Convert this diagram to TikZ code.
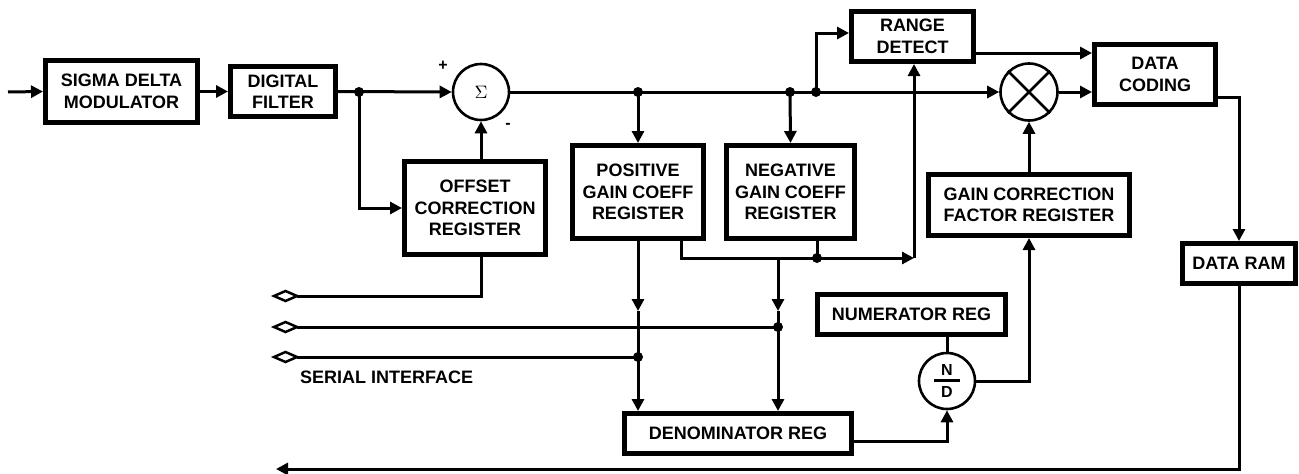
\documentclass[tikz,border=0pt]{standalone}
\usepackage{fontspec}
\setmainfont{Liberation Sans}
\usetikzlibrary{arrows.meta}
\begin{document}
\begin{tikzpicture}[x=1pt,y=-1pt,
  blk/.style={draw,line width=5pt,inner sep=0pt,align=center,font=\fontsize{18}{21.5}\selectfont\bfseries},
  conn/.style={line width=3pt},
  arr/.style={conn,-{Triangle[length=12pt,width=12pt]}},
  junc/.style={circle,fill,inner sep=0pt,minimum size=10pt},
  opcirc/.style={circle,draw,line width=2.6pt,inner sep=0pt},
  lbl/.style={font=\fontsize{18}{21.5}\selectfont\bfseries,inner sep=0pt},
  port/.style={line width=2.5pt,line join=miter}
]
\useasboundingbox (0,0) rectangle (1299,474);

% blocks
\node[blk,minimum width=152pt,minimum height=62pt] (sd) at (121.5,91.5) {SIGMA DELTA\\MODULATOR};
\node[blk,minimum width=105pt,minimum height=50pt] (df) at (283,91.5) {DIGITAL\\FILTER};
\node[blk,minimum width=141pt,minimum height=93pt] (off) at (475,208) {OFFSET\\CORRECTION\\REGISTER};
\node[blk,minimum width=131pt,minimum height=93pt] (pos) at (638,192) {POSITIVE\\GAIN COEFF\\REGISTER};
\node[blk,minimum width=128pt,minimum height=93pt] (neg) at (790.5,192) {NEGATIVE\\GAIN COEFF\\REGISTER};
\node[blk,minimum width=122pt,minimum height=50pt] (rng) at (912.5,36.5) {RANGE\\DETECT};
\node[blk,minimum width=121pt,minimum height=60pt] (dc) at (1155,74.5) {DATA\\CODING};
\node[blk,minimum width=201pt,minimum height=61pt] (gc) at (1029,205) {GAIN CORRECTION\\FACTOR REGISTER};
\node[blk,minimum width=188pt,minimum height=40pt] (num) at (911.5,314.5) {NUMERATOR REG};
\node[blk,minimum width=227pt,minimum height=40pt] (den) at (738,433.5) {DENOMINATOR REG};
\node[blk,minimum width=113pt,minimum height=40pt] (ram) at (1239,263.5) {DATA RAM};

% operator circles
\node[opcirc,minimum size=56pt] (sig) at (481,92) {\scalebox{1.8}{$\Sigma$}};
\node[opcirc,minimum size=57pt] (mul) at (1029,92) {};
\draw[line width=2.6pt] (mul.north east) -- (mul.south west) (mul.north west) -- (mul.south east);
\node[opcirc,minimum size=56pt] (nd) at (947,381) {};
\node[lbl,font=\fontsize{16}{16}\selectfont\bfseries] (nN) at (947,370) {N};
\node[lbl,font=\fontsize{16}{16}\selectfont\bfseries] (nD) at (947,392) {D};
\draw[line width=2.6pt] (934,380.5) -- (960,380.5);

% labels
\node[font=\fontsize{16}{16}\selectfont\bfseries,inner sep=0pt] (plus) at (443,66) {+};
\node[font=\fontsize{16}{16}\selectfont\bfseries,inner sep=0pt] (minus) at (508,126) {-};
\node[lbl,anchor=west] (si) at (300,377) {SERIAL INTERFACE};

% coordinates
\coordinate (in) at (8,92);
\coordinate (d1) at (359,92);
\coordinate (dp) at (638,92);
\coordinate (dn) at (790,92);
\coordinate (dr) at (816,92);
\coordinate (c681) at (681,258);
\coordinate (cr) at (914,258);
\coordinate (dq) at (817,258);
\coordinate (v0) at (778,258);
\coordinate (vm) at (778,311);
\coordinate (pm) at (638,311);
\coordinate (dv) at (778,327);
\coordinate (dw) at (638,357);
\coordinate (outl) at (276,469);

% serial ports
\foreach \yy/\nm in {296/s1,327/s2,357/s3}{
  \draw[port] (274,\yy) -- (285.5,\yy-5) -- (297,\yy) -- (285.5,\yy+5) -- cycle;
  \coordinate (\nm) at (297,\yy);
}

% connectors
\draw[arr] (in) -- (sd.west);
\draw[arr] (sd.east) -- (df.west);
\draw[arr] (df.east) -- (sig.west);
\draw[arr] (d1) |- (off.west);
\draw[arr] (sig.south |- off.north) -- (sig.south);
\draw[arr] (sig.east) -- (mul.west);
\draw[arr] (dp) -- (pos.north);
\draw[arr] (dn) -- (neg.north);
\draw[arr] (dr) |- ([yshift=3.5pt]rng.west);
\coordinate (r1) at ([yshift=-16.5pt]rng.east);
\draw[arr] (r1) -- (r1 -| dc.west);
\draw[arr] (mul.east) -- (mul.east -| dc.west);
\coordinate (dco) at ([yshift=-22.5pt]dc.east);
\draw[arr] (dco) -| (ram.north);
\draw[arr] (ram.south) |- (outl);
\draw[arr] (gc.north) -- (mul.south);

\draw[arr] (c681 |- pos.south) |- (cr);
\draw[arr] (cr) -- (cr |- rng.south);
\draw[conn] (dq |- neg.south) -- (dq);

\draw[arr] (v0) -- (vm);
\draw[arr] (vm) -- (vm |- den.north);
\draw[arr] (pos.south) -- (pm);
\draw[arr] (pm) -- (pm |- den.north);

\draw[conn] (sig.south |- off.south) |- (s1);
\draw[conn] (s2) -- (dv);
\draw[conn] (s3) -- (dw);

\coordinate (deo) at ([yshift=-7.5pt]den.east);
\draw[arr] (deo) -| (nd.south);
\draw[conn] (nd.north |- num.south) -- (nd.north);
\draw[arr] (nd.east) -| (gc.south);

% junction dots
\foreach \j in {d1,dp,dn,dr,dq,dv,dw}{ \node[junc] at (\j) {}; }
\end{tikzpicture}
\end{document}
